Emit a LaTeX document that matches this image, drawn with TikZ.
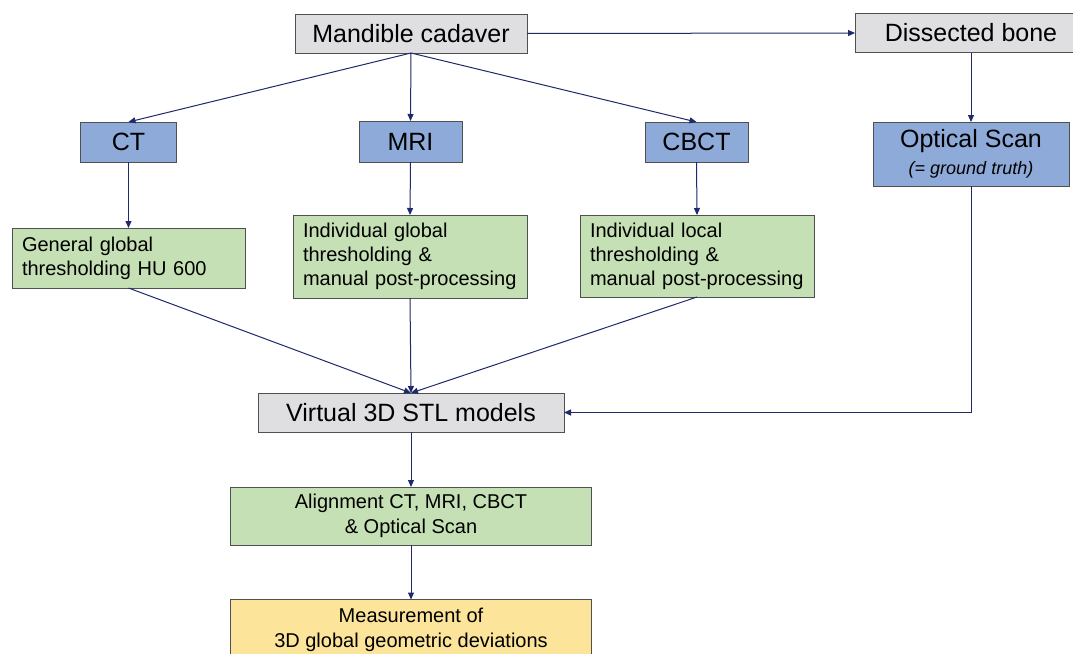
\documentclass[tikz,border=0pt]{standalone}
\usepackage{fontspec}
\setmainfont{Liberation Sans}
\usetikzlibrary{arrows.meta}
\definecolor{boxgray}{HTML}{DFDFE1}
\definecolor{boxblue}{HTML}{8EAAD8}
\definecolor{boxgreen}{HTML}{C5E0B4}
\definecolor{boxyellow}{HTML}{FCE49A}
\definecolor{edgegray}{HTML}{505050}
\definecolor{navy}{HTML}{1E2A6A}
\tikzset{
  box/.style={draw=edgegray, line width=1pt, inner sep=0pt, outer sep=0pt},
  graybox/.style={box, fill=boxgray, font=\fontsize{25}{30}\selectfont},
  bluebox/.style={box, fill=boxblue, font=\fontsize{25}{30}\selectfont},
  greenbox/.style={box, fill=boxgreen, font=\fontsize{20}{24}\selectfont, align=left, inner xsep=10pt},
  centerbox/.style={box, font=\fontsize{20}{24.5}\selectfont, align=center},
  conn/.style={draw=navy, line width=1pt, -{Triangle[length=7pt,width=6pt]}}
}
\begin{document}
\begin{tikzpicture}[x=1pt,y=-1pt]
\useasboundingbox (0,0) rectangle (1073,653);
\fill[white] (0,0) rectangle (1073,653);

\node[graybox, minimum width=232pt, minimum height=39pt] (mand) at (411,33.5) {Mandible cadaver};
\node[graybox, minimum width=232pt, minimum height=39pt] (dis) at (971,33) {Dissected bone};

\node[bluebox, minimum width=96pt, minimum height=40pt] (ct) at (128.5,142) {CT};
\node[bluebox, minimum width=103pt, minimum height=41pt] (mri) at (410.5,141.5) {MRI};
\node[bluebox, minimum width=103pt, minimum height=40pt] (cbct) at (696.5,142) {CBCT};
\node[bluebox, minimum width=196pt, minimum height=64pt, align=center] (opt) at (971,154)
  {Optical Scan\\[-3pt]{\fontsize{18}{22}\selectfont\itshape (= ground truth)}};

\node[greenbox, text width=213pt, minimum height=60pt] (gg) at (128.5,258)
  {General global\\thresholding HU 600};
\node[greenbox, text width=214pt, minimum height=83pt] (ig) at (410,256.5)
  {Individual global\\thresholding \&\\manual post-processing};
\node[greenbox, text width=214pt, minimum height=82pt] (il) at (697,256)
  {Individual local\\thresholding \&\\manual post-processing};

\node[graybox, minimum width=306pt, minimum height=39pt] (vir) at (411,412.5) {Virtual 3D STL models};
\node[centerbox, fill=boxgreen, minimum width=361pt, minimum height=58pt] (ali) at (411,516)
  {Alignment CT, MRI, CBCT\\\& Optical Scan};
\node[centerbox, fill=boxyellow, minimum width=361pt, minimum height=61pt] (mea) at (411,630)
  {Measurement of\\3D global geometric deviations};

\draw[conn] (mand.east) -- (dis.west);
\draw[conn] (mand.south) -- (ct.north);
\draw[conn] (mand.south) -- (mri.north);
\draw[conn] (mand.south) -- (cbct.north);
\draw[conn] (dis.south) -- (opt.north);
\draw[conn] (ct.south) -- (gg.north);
\draw[conn] (mri.south) -- (ig.north);
\draw[conn] (cbct.south) -- (il.north);
\draw[conn] (gg.south) -- (vir.north);
\draw[conn] (ig.south) -- (vir.north);
\draw[conn] (il.south) -- (vir.north);
\draw[conn] (opt.south) |- (vir.east);
\draw[conn] (vir.south) -- (ali.north);
\draw[conn] (ali.south) -- (mea.north);
\end{tikzpicture}
\end{document}
